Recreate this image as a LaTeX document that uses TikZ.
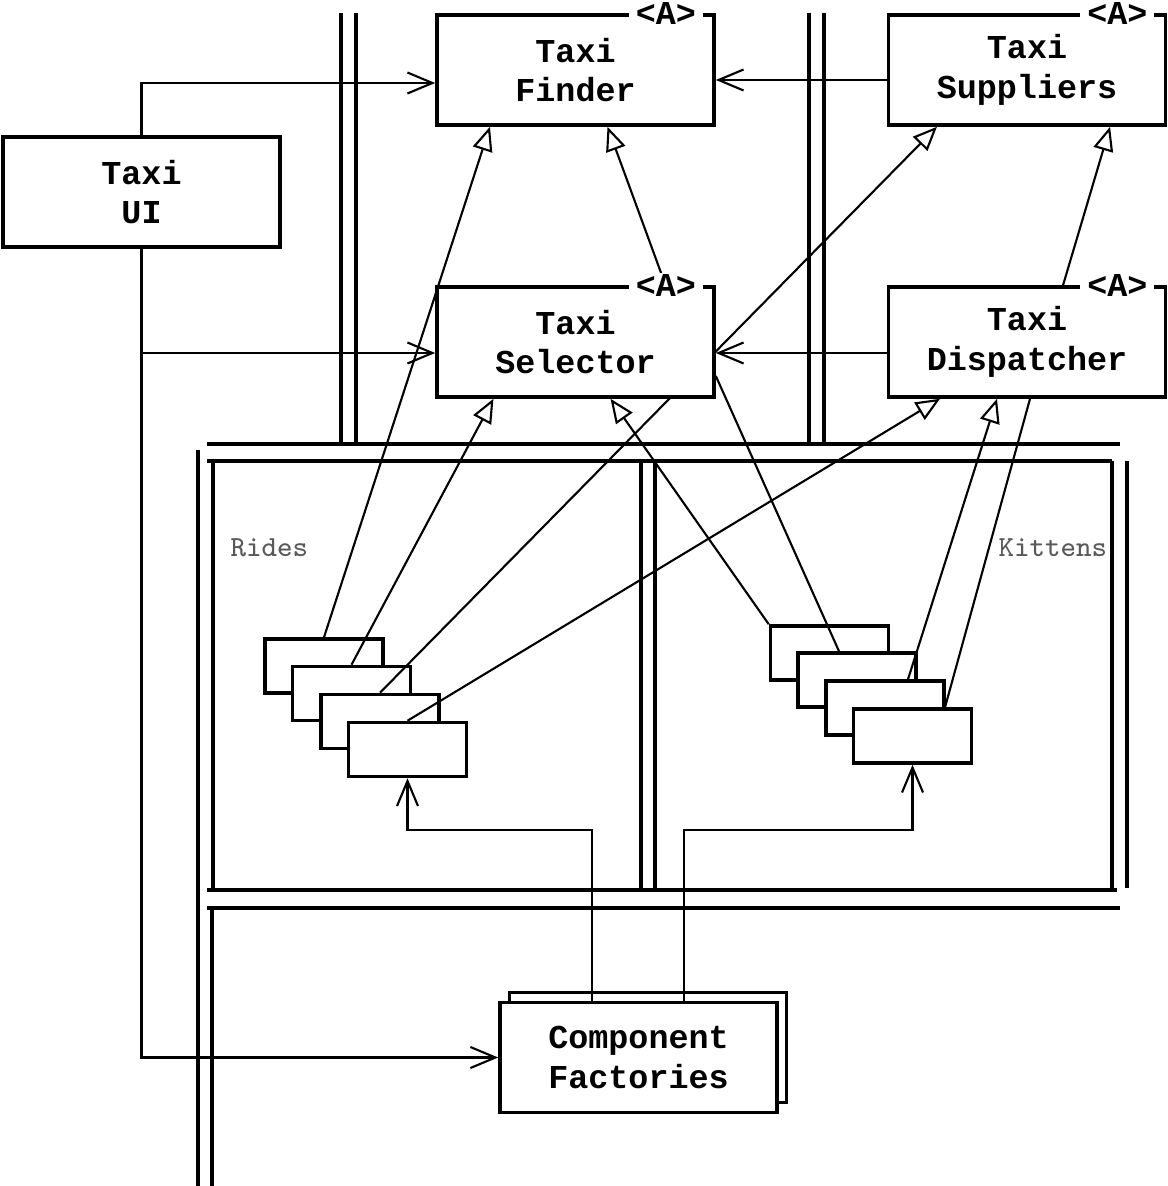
\documentclass[tikz,border=0pt]{standalone}
\usepackage{fontspec}
\newfontfamily\boxfont{Liberation Mono}
\usepackage{tikz}
\usetikzlibrary{arrows.meta}
\pgfdeclarelayer{front}
\pgfsetlayers{main,front}
\tikzset{every node/.append style={font=\fontsize{9.5}{11.2}\selectfont\boxfont\bfseries}}
\tikzset{
  bigbox/.style={draw, line width=1pt, fill=white, minimum width=2.77cm, minimum height=1.1cm, align=center, inner sep=0pt},
  smallbox/.style={draw, line width=1pt, fill=white, minimum width=1.18cm, minimum height=0.54cm, inner sep=0pt},
  tag/.style={fill=white, inner xsep=0.7mm, inner ysep=0.3pt},
  pkgline/.style={line width=1.4pt},
  pkglabel/.style={anchor=west, inner sep=0pt, text=black!65, font=\fontsize{8.3}{10}\selectfont\ttfamily},
  uses/.style={line width=0.6pt, -{Straight Barb[length=2.5mm, width=2.1mm]}},
  extends/.style={line width=0.6pt, -{Triangle[open, length=2.4mm, width=2mm]}},
  plain/.style={line width=0.6pt}
}

\begin{document}
\begin{tikzpicture}[x=0.01cm, y=-0.01cm]
    \useasboundingbox (0,0) rectangle (1168,1186);

    \begin{pgfonlayer}{front}
    \node[bigbox] (finder) at (575.5,70) {Taxi\\Finder};
    \node[bigbox] (suppliers) at (1027,70) {Taxi\\Suppliers};
    \node[bigbox] (ui) at (141.5,192) {Taxi\\UI};
    \node[bigbox] (selector) at (575.5,342) {Taxi\\Selector};
    \node[bigbox] (dispatcher) at (1027,342) {Taxi\\Dispatcher};
    \foreach \b in {finder, suppliers, selector, dispatcher}
        \node[tag] at ([xshift=-0.5cm]\b.north east) {<A>};
    \end{pgfonlayer}

    % layers
    \draw[pkgline] (341,13) -- (341,444) (356,13) -- (356,444);
    \draw[pkgline] (809,13) -- (809,444) (824,13) -- (824,444);
    \draw[pkgline] (207,444) -- (1120,444);
    \draw[pkgline] (207,461) -- (1112,461) (213,461) -- (213,890) (1112,461) -- (1112,890);
    \draw[pkgline] (641,461) -- (641,890) (655,461) -- (655,890);
    \draw[pkgline] (1127,461) -- (1127,888);
    \draw[pkgline] (207,890) -- (1117,890) (207,908) -- (1120,908);
    \draw[pkgline] (198,450) -- (198,1186) (212,908) -- (212,1186);
    \node[pkglabel] (rides) at (230,548) {Rides};
    \node[pkglabel] (kittens) at (998,548) {Kittens};

    \node[smallbox] (r1) at (324,666) {};
    \node[smallbox] (r2) at (351.5,693.5) {};
    \node[smallbox] (r3) at (380,721.5) {};
    \node[smallbox] (r4) at (407.5,749.5) {};
    \node[smallbox] (k1) at (829.5,653) {};
    \node[smallbox] (k2) at (857,680) {};
    \node[smallbox] (k3) at (885,708) {};
    \node[smallbox] (k4) at (912.5,736) {};

    \node[bigbox] (factoriesback) at (648,1047.5) {};
    \node[bigbox] (factories) at (638.5,1057.5) {Component\\Factories};

    \draw[uses] (ui.north) |- ([yshift=-0.13cm]finder.west);
    \draw[uses] (ui.south) |- ([yshift=-0.11cm]selector.west);
    \draw[uses] (ui.south) |- (factories.west);
    \draw[uses] ([yshift=-0.1cm]suppliers.west) -- ([yshift=-0.1cm]finder.east);
    \draw[uses] ([yshift=-0.11cm]dispatcher.west) -- ([yshift=-0.11cm]selector.east);
    \draw[extends] ([xshift=0.9cm]selector.north) -- ([xshift=0.32cm]finder.south);
    \draw[extends] ([xshift=0.36cm]dispatcher.north) -- ([xshift=0.83cm]suppliers.south);
    \draw[extends] (r1.north) -- ([xshift=-0.855cm]finder.south);
    \draw[extends] (r2.north) -- ([xshift=-0.82cm]selector.south);
    \draw[extends] (r3.north) -- ([xshift=-0.9cm]suppliers.south);
    \draw[extends] (r4.north) -- ([xshift=-0.87cm]dispatcher.south);
    \draw[extends] (k1.north west) -- ([xshift=0.35cm]selector.south);
    \draw[plain] ([xshift=-0.18cm]k2.north) -- ([yshift=-0.34cm]selector.east);
    \draw[extends] ([xshift=0.23cm]k3.north) -- ([xshift=-0.3cm]dispatcher.south);
    \draw[plain] ([xshift=0.325cm]k4.north) -- ([xshift=0.03cm]dispatcher.south);

    \coordinate (bus) at (0,830);
    \coordinate (facleft) at ([xshift=-0.465cm]factories.north);
    \coordinate (facright) at ([xshift=0.455cm]factories.north);
    \draw[uses] (facleft) -- (facleft |- bus) -| (r4.south);
    \draw[uses] (facright) -- (facright |- bus) -| (k4.south);
\end{tikzpicture}
\end{document}
